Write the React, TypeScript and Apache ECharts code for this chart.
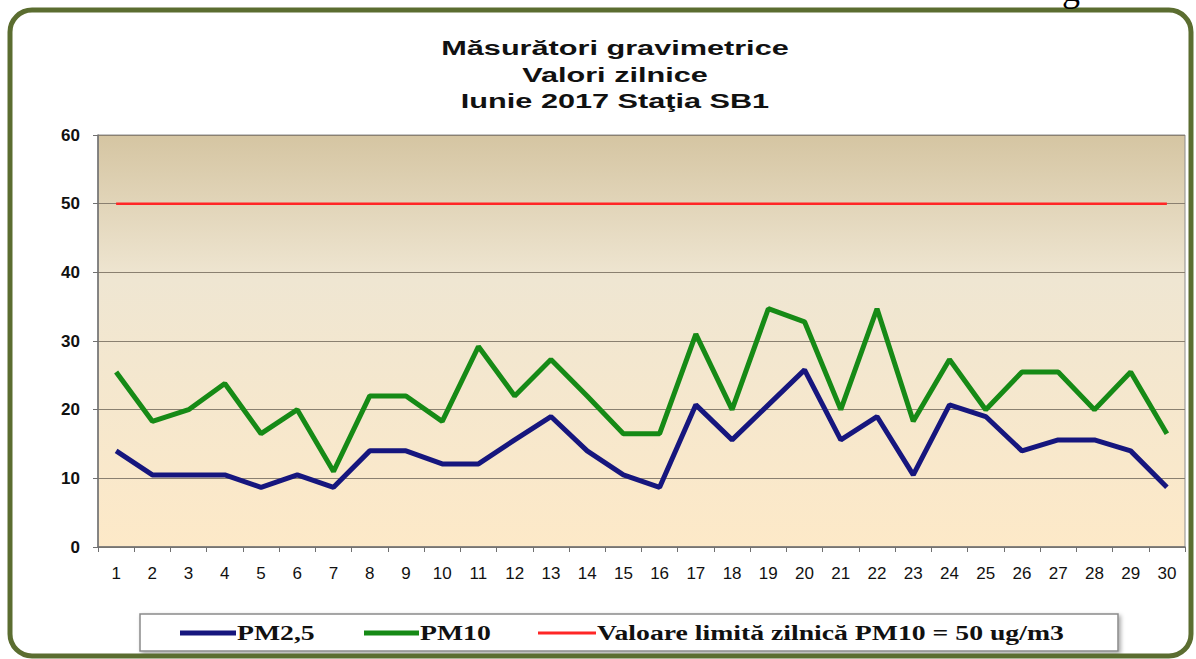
import React, { useEffect, useRef } from "react";
import * as echarts from "echarts";

const days = Array.from({ length: 30 }, (_, i) => String(i + 1));
const pm25 = [14, 10.5, 10.5, 10.5, 8.7, 10.5, 8.7, 14, 14, 12.1, 12.1, 15.6, 19, 14, 10.5, 8.7, 20.7, 15.6, 20.7, 25.8, 15.6, 19, 10.5, 20.7, 19, 14, 15.6, 15.6, 14, 8.7];
const pm10 = [25.5, 18.3, 20, 23.8, 16.5, 20, 11, 22, 22, 18.3, 29.2, 22, 27.3, 22, 16.5, 16.5, 31, 20, 34.7, 32.8, 20, 34.7, 18.3, 27.3, 20, 25.5, 25.5, 20, 25.5, 16.5];
const limitValue = 50;
const limit = days.map(() => limitValue);
const yTicks = [0, 10, 20, 30, 40, 50, 60];
const titleLines = ["Măsurători gravimetrice", "Valori zilnice", "Iunie 2017 Staţia SB1"];
const seriesNames = ["PM2,5", "PM10", "Valoare limită zilnică PM10 = 50 ug/m3"];
const seriesColors = ["#16167e", "#168a16", "#ff2626"];

export default function App() {
  const ref = useRef<HTMLDivElement>(null);
  useEffect(() => {
    if (!ref.current) return;
    const chart = echarts.init(ref.current, null, { renderer: "svg" });

    const titleY = [48, 75, 101];
    const titleGraphics = titleLines.map((t, i) => ({
      type: "text",
      x: 615,
      y: titleY[i],
      scaleX: 1.46,
      style: {
        text: t,
        align: "center",
        verticalAlign: "middle",
        fontFamily: "'Liberation Sans', Arial, sans-serif",
        fontWeight: "bold",
        fontSize: 21,
        fill: "#111",
      },
      z: 20,
    }));

    const legendItems = [
      { x1: 180, x2: 236, w: 5 },
      { x1: 364, x2: 419, w: 5 },
      { x1: 538, x2: 596, w: 3 },
    ];
    const legendGraphics: any[] = [];
    legendItems.forEach((it, i) => {
      legendGraphics.push({
        type: "line",
        shape: { x1: it.x1, y1: 633, x2: it.x2, y2: 633 },
        style: { stroke: seriesColors[i], lineWidth: it.w },
        z: 20,
      });
      legendGraphics.push({
        type: "text",
        x: it.x2 + 1,
        y: 633,
        scaleX: 1.26,
        style: {
          text: seriesNames[i],
          align: "left",
          verticalAlign: "middle",
          fontFamily: "'Liberation Serif', 'Times New Roman', serif",
          fontWeight: "bold",
          fontSize: 22,
          fill: "#111",
        },
        z: 20,
      });
    });

    chart.setOption({
      animation: false,
      backgroundColor: "#fff",
      graphic: [
        {
          type: "rect",
          shape: { x: 10, y: 10, width: 1181, height: 646, r: 22 },
          style: { fill: "none", stroke: "#5b6d30", lineWidth: 5 },
          z: 100,
        },
        {
          type: "text",
          x: 1062,
          y: 7,
          style: { text: "g", verticalAlign: "bottom", fontFamily: "'Liberation Serif', serif", fontSize: 36, fill: "#000" },
          z: 101,
        },
        {
          type: "rect",
          shape: { x: 140, y: 614, width: 978, height: 37 },
          style: { fill: "#fff", stroke: "#8a8a8a", lineWidth: 1.5, shadowBlur: 4, shadowColor: "rgba(0,0,0,0.35)", shadowOffsetX: 2, shadowOffsetY: 2 },
          z: 10,
        },
        ...titleGraphics,
        ...legendGraphics,
      ],
      grid: {
        left: 98,
        right: 11,
        top: 135,
        bottom: 112,
        show: true,
        borderColor: "#8c8c8c",
        borderWidth: 1,
        backgroundColor: new echarts.graphic.LinearGradient(0, 0, 0, 1, [
          { offset: 0, color: "#d5c5a2" },
          { offset: 0.35, color: "#efe6d2" },
          { offset: 1, color: "#fde9c8" },
        ]),
      },
      xAxis: {
        type: "category",
        data: days,
        boundaryGap: true,
        axisLine: { lineStyle: { color: "#707070", width: 1.5 } },
        axisTick: { show: true, length: 5, lineStyle: { color: "#707070" } },
        axisLabel: {
          interval: 0,
          margin: 18,
          fontFamily: "'Liberation Sans', Arial, sans-serif",
          fontSize: 17,
          color: "#111",
        },
      },
      yAxis: {
        type: "value",
        min: yTicks[0],
        max: yTicks[yTicks.length - 1],
        interval: 10,
        axisLine: { show: true, lineStyle: { color: "#707070", width: 1.5 } },
        axisTick: { show: true, length: 5, lineStyle: { color: "#707070" } },
        splitLine: { lineStyle: { color: "#8a8070", width: 1.2 } },
        axisLabel: {
          margin: 18,
          fontFamily: "'Liberation Sans', Arial, sans-serif",
          fontWeight: "bold",
          fontSize: 17,
          color: "#111",
        },
      },
      series: [
        {
          name: seriesNames[0],
          type: "line",
          data: pm25,
          symbol: "none",
          lineStyle: { color: seriesColors[0], width: 5 },
          itemStyle: { color: seriesColors[0] },
          z: 4,
        },
        {
          name: seriesNames[1],
          type: "line",
          data: pm10,
          symbol: "none",
          lineStyle: { color: seriesColors[1], width: 5 },
          itemStyle: { color: seriesColors[1] },
          z: 3,
        },
        {
          name: seriesNames[2],
          type: "line",
          data: limit,
          symbol: "none",
          lineStyle: { color: seriesColors[2], width: 2.5 },
          itemStyle: { color: seriesColors[2] },
          z: 2,
        },
      ],
    });
    return () => chart.dispose();
  }, []);
  return <div ref={ref} style={{ position: "fixed", left: 0, top: 0, width: 1196, height: 659 }} />;
}
